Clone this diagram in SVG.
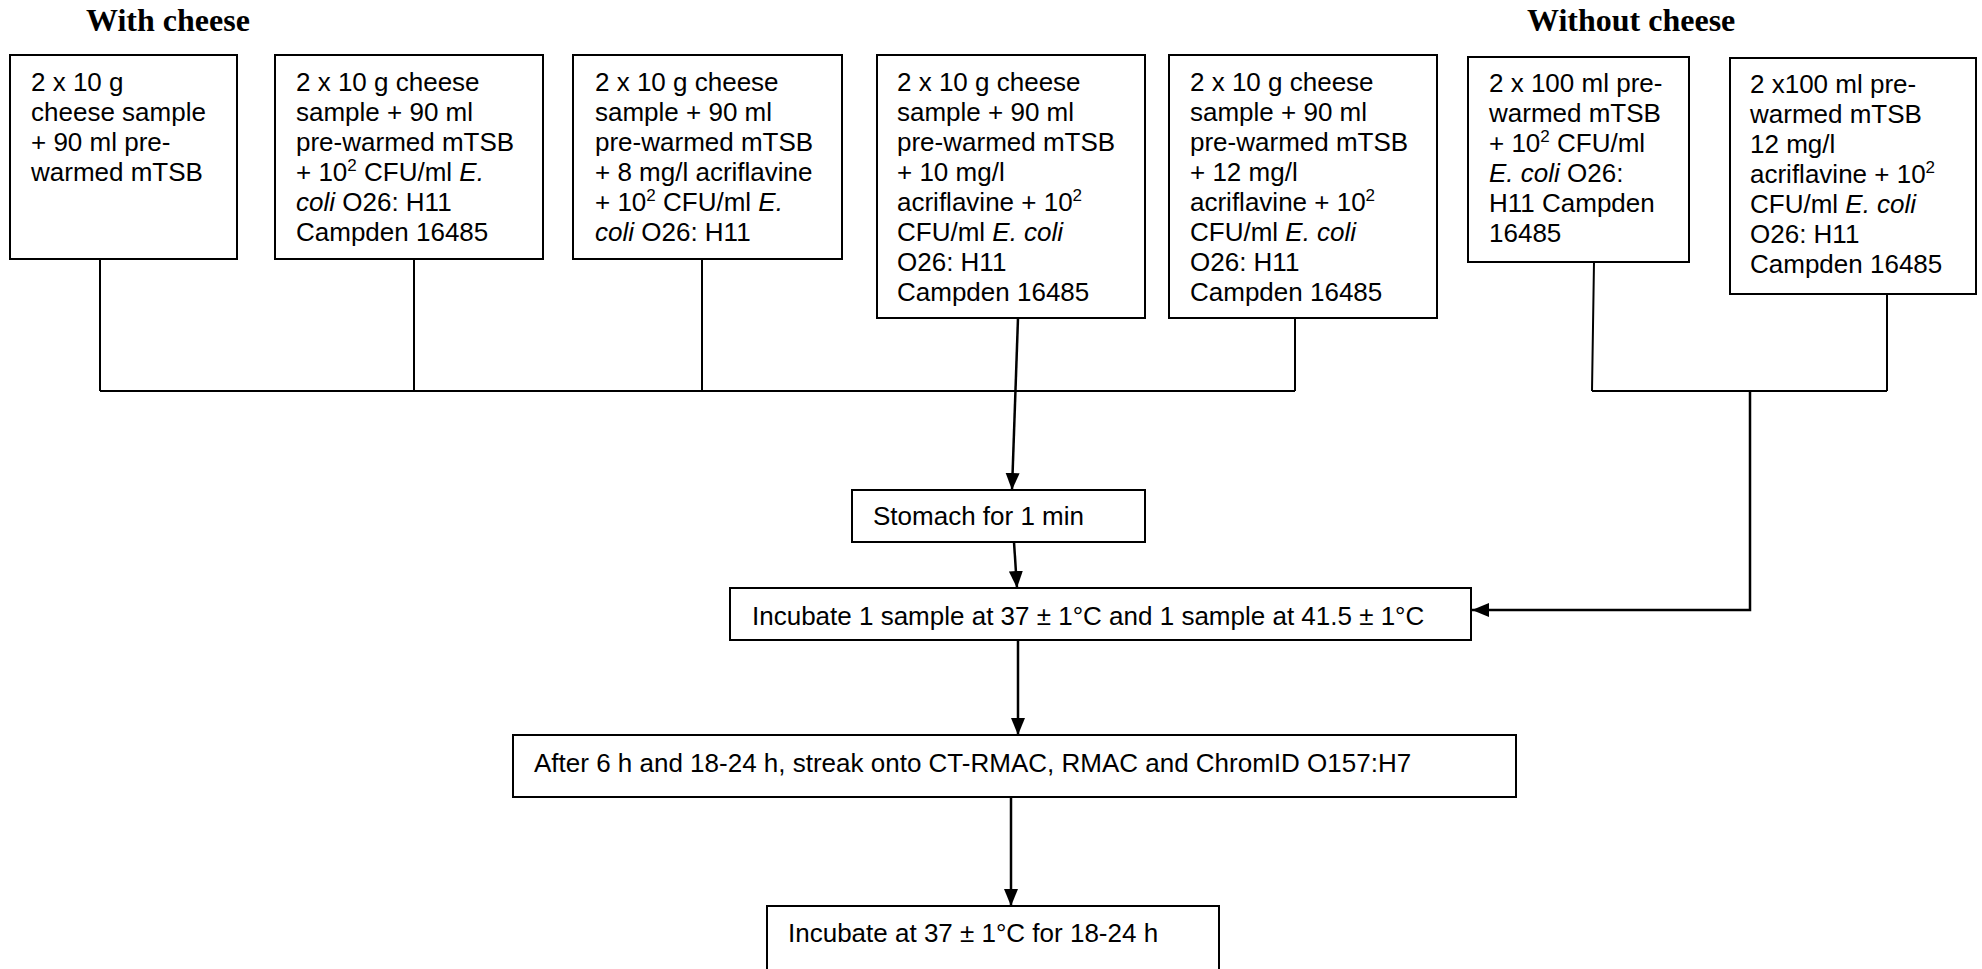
<svg xmlns="http://www.w3.org/2000/svg" width="1982" height="969" viewBox="0 0 1982 969">
<defs>
<style>
.box{fill:#fff;stroke:#000;stroke-width:2}
.t{font-family:"Liberation Sans",Arial,sans-serif;font-size:26px;fill:#000}
.h{font-family:"Liberation Serif","Times New Roman",serif;font-size:32px;font-weight:bold;fill:#000}
.i{font-style:italic}
.sup{font-size:17px}
.ln{fill:none;stroke:#000;stroke-width:2}
.ar{fill:none;stroke:#000;stroke-width:2.5}
</style>
<marker id="ah" markerUnits="userSpaceOnUse" markerWidth="18" markerHeight="16" refX="17" refY="7" orient="auto">
<path d="M0,0 L17,7 L0,14 z" fill="#000"/>
</marker>
</defs>
<rect width="1982" height="969" fill="#fff"/>
<g id="titles">
<text class="h" x="86" y="31">With cheese</text>
<text class="h" x="1527" y="31">Without cheese</text>
</g>
<g id="connectors">
<path class="ln" d="M100,259 V391 M414,259 V391 M702,259 V391 M1295,318 V391 M100,391 H1295"/>
<path class="ar" d="M1018,318 L1012,490" marker-end="url(#ah)"/>
<path class="ln" d="M1594,262 L1592,391 M1887,294 V391 M1592,391 H1887"/>
<path class="ar" d="M1750,391 V610 H1472" marker-end="url(#ah)"/>
<path class="ar" d="M1014,542 L1017,588" marker-end="url(#ah)"/>
<path class="ar" d="M1018,640 V735" marker-end="url(#ah)"/>
<path class="ar" d="M1011,797 V906" marker-end="url(#ah)"/>
</g>
<g id="box1">
<rect class="box" x="10" y="55" width="227" height="204"/>
<text class="t" x="31" y="91">2 x 10 g</text>
<text class="t" x="31" y="121">cheese sample</text>
<text class="t" x="31" y="151">+ 90 ml pre-</text>
<text class="t" x="31" y="181">warmed mTSB</text>
</g>
<g id="box2">
<rect class="box" x="275" y="55" width="268" height="204"/>
<text class="t" x="296" y="91">2 x 10 g cheese</text>
<text class="t" x="296" y="121">sample + 90 ml</text>
<text class="t" x="296" y="151">pre-warmed mTSB</text>
<text class="t" x="296" y="181">+ 10<tspan class="sup" dy="-10">2</tspan><tspan dy="10"> CFU/ml </tspan><tspan class="i">E.</tspan></text>
<text class="t" x="296" y="211"><tspan class="i">coli</tspan> O26: H11</text>
<text class="t" x="296" y="241">Campden 16485</text>
</g>
<g id="box3">
<rect class="box" x="573" y="55" width="269" height="204"/>
<text class="t" x="595" y="91">2 x 10 g cheese</text>
<text class="t" x="595" y="121">sample + 90 ml</text>
<text class="t" x="595" y="151">pre-warmed mTSB</text>
<text class="t" x="595" y="181">+ 8 mg/l acriflavine</text>
<text class="t" x="595" y="211">+ 10<tspan class="sup" dy="-10">2</tspan><tspan dy="10"> CFU/ml </tspan><tspan class="i">E.</tspan></text>
<text class="t" x="595" y="241"><tspan class="i">coli</tspan> O26: H11</text>
</g>
<g id="box4">
<rect class="box" x="877" y="55" width="268" height="263"/>
<text class="t" x="897" y="91">2 x 10 g cheese</text>
<text class="t" x="897" y="121">sample + 90 ml</text>
<text class="t" x="897" y="151">pre-warmed mTSB</text>
<text class="t" x="897" y="181">+ 10 mg/l</text>
<text class="t" x="897" y="211">acriflavine + 10<tspan class="sup" dy="-10">2</tspan></text>
<text class="t" x="897" y="241">CFU/ml <tspan class="i">E. coli</tspan></text>
<text class="t" x="897" y="271">O26: H11</text>
<text class="t" x="897" y="301">Campden 16485</text>
</g>
<g id="box5">
<rect class="box" x="1169" y="55" width="268" height="263"/>
<text class="t" x="1190" y="91">2 x 10 g cheese</text>
<text class="t" x="1190" y="121">sample + 90 ml</text>
<text class="t" x="1190" y="151">pre-warmed mTSB</text>
<text class="t" x="1190" y="181">+ 12 mg/l</text>
<text class="t" x="1190" y="211">acriflavine + 10<tspan class="sup" dy="-10">2</tspan></text>
<text class="t" x="1190" y="241">CFU/ml <tspan class="i">E. coli</tspan></text>
<text class="t" x="1190" y="271">O26: H11</text>
<text class="t" x="1190" y="301">Campden 16485</text>
</g>
<g id="box6">
<rect class="box" x="1468" y="57" width="221" height="205"/>
<text class="t" x="1489" y="92">2 x 100 ml pre-</text>
<text class="t" x="1489" y="122">warmed mTSB</text>
<text class="t" x="1489" y="152">+ 10<tspan class="sup" dy="-10">2</tspan><tspan dy="10"> CFU/ml</tspan></text>
<text class="t" x="1489" y="182"><tspan class="i">E. coli</tspan> O26:</text>
<text class="t" x="1489" y="212">H11 Campden</text>
<text class="t" x="1489" y="242">16485</text>
</g>
<g id="box7">
<rect class="box" x="1730" y="58" width="246" height="236"/>
<text class="t" x="1750" y="93">2 x100 ml pre-</text>
<text class="t" x="1750" y="123">warmed mTSB</text>
<text class="t" x="1750" y="153">12 mg/l</text>
<text class="t" x="1750" y="183">acriflavine + 10<tspan class="sup" dy="-10">2</tspan></text>
<text class="t" x="1750" y="213">CFU/ml <tspan class="i">E. coli</tspan></text>
<text class="t" x="1750" y="243">O26: H11</text>
<text class="t" x="1750" y="273">Campden 16485</text>
</g>
<g id="stomach">
<rect class="box" x="852" y="490" width="293" height="52"/>
<text class="t" x="873" y="525">Stomach for 1 min</text>
</g>
<g id="incubate1">
<rect class="box" x="730" y="588" width="741" height="52"/>
<text class="t" x="752" y="625">Incubate 1 sample at 37 ± 1°C and 1 sample at 41.5 ± 1°C</text>
</g>
<g id="streak">
<rect class="box" x="513" y="735" width="1003" height="62"/>
<text class="t" x="534" y="772">After 6 h and 18-24 h, streak onto CT-RMAC, RMAC and ChromID O157:H7</text>
</g>
<g id="incubate2">
<rect class="box" x="767" y="906" width="452" height="70"/>
<text class="t" x="788" y="942">Incubate at 37 ± 1°C for 18-24 h</text>
</g>
</svg>
